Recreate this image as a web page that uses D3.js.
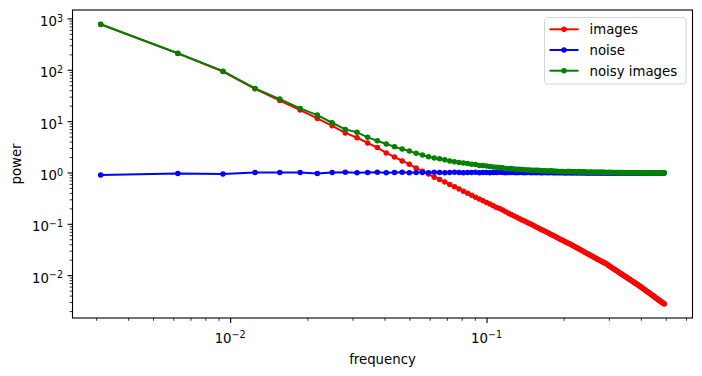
<!DOCTYPE html>
<html>
<head>
<meta charset="utf-8">
<script src="https://cdn.jsdelivr.net/npm/d3@7"></script>
<style>
  body { margin: 0; background: #fff; }
  svg { font-family: "DejaVu Sans", sans-serif; }
</style>
</head>
<body>
<svg id="chart" width="702" height="376"></svg>
<script>
// radial frequency bins (cycles / pixel)
const frequency = [
  0.003125, 0.00625, 0.009375, 0.0125, 0.015625, 0.01875, 0.021875, 0.025, 0.028125, 0.03125,
  0.034375, 0.0375, 0.040625, 0.04375, 0.046875, 0.05, 0.053125, 0.05625, 0.059375, 0.0625,
  0.065625, 0.06875, 0.071875, 0.075, 0.078125, 0.08125, 0.084375, 0.0875, 0.090625, 0.09375,
  0.096875, 0.1, 0.103125, 0.10625, 0.109375, 0.1125, 0.115625, 0.11875, 0.121875, 0.125,
  0.128125, 0.13125, 0.134375, 0.1375, 0.140625, 0.14375, 0.146875, 0.15, 0.153125, 0.15625,
  0.159375, 0.1625, 0.165625, 0.16875, 0.171875, 0.175, 0.178125, 0.18125, 0.184375, 0.1875,
  0.190625, 0.19375, 0.196875, 0.2, 0.203125, 0.20625, 0.209375, 0.2125, 0.215625, 0.21875,
  0.221875, 0.225, 0.228125, 0.23125, 0.234375, 0.2375, 0.240625, 0.24375, 0.246875, 0.25,
  0.253125, 0.25625, 0.259375, 0.2625, 0.265625, 0.26875, 0.271875, 0.275, 0.278125, 0.28125,
  0.284375, 0.2875, 0.290625, 0.29375, 0.296875, 0.3, 0.303125, 0.30625, 0.309375, 0.3125,
  0.315625, 0.31875, 0.321875, 0.325, 0.328125, 0.33125, 0.334375, 0.3375, 0.340625, 0.34375,
  0.346875, 0.35, 0.353125, 0.35625, 0.359375, 0.3625, 0.365625, 0.36875, 0.371875, 0.375,
  0.378125, 0.38125, 0.384375, 0.3875, 0.390625, 0.39375, 0.396875, 0.4, 0.403125, 0.40625,
  0.409375, 0.4125, 0.415625, 0.41875, 0.421875, 0.425, 0.428125, 0.43125, 0.434375, 0.4375,
  0.440625, 0.44375, 0.446875, 0.45, 0.453125, 0.45625, 0.459375, 0.4625, 0.465625, 0.46875,
  0.471875, 0.475, 0.478125, 0.48125, 0.484375, 0.4875, 0.490625, 0.49375
]

const imagesPower = [
  765, 208, 92.5, 42.5, 25.2, 16.4, 11.3, 8.1, 5.9, 4.75,
  3.75, 3.05, 2.4, 2.0, 1.68, 1.45, 1.22, 1.06, 0.93, 0.81,
  0.73, 0.655, 0.58, 0.525, 0.478, 0.43, 0.395, 0.36, 0.33, 0.305,
  0.28, 0.26, 0.242, 0.224, 0.209, 0.198, 0.185, 0.171, 0.16, 0.151,
  0.142, 0.134, 0.126, 0.119, 0.113, 0.107, 0.101, 0.0965, 0.0915, 0.087,
  0.0828, 0.0788, 0.0751, 0.0716, 0.0683, 0.0653, 0.0623, 0.0597, 0.0571, 0.0547,
  0.0525, 0.0503, 0.0483, 0.0464, 0.0446, 0.0429, 0.0413, 0.0398, 0.0383, 0.0369,
  0.0355, 0.0342, 0.0329, 0.0317, 0.0305, 0.0295, 0.0284, 0.0274, 0.0265, 0.0256,
  0.0247, 0.0239, 0.0231, 0.0224, 0.0217, 0.0210, 0.0203, 0.0197, 0.0191, 0.0185,
  0.0180, 0.0174, 0.0170, 0.0166, 0.0160, 0.0153, 0.0148, 0.0143, 0.0138, 0.0134,
  0.0130, 0.0125, 0.0122, 0.0118, 0.0114, 0.0110, 0.0107, 0.0104, 0.0101, 0.00977,
  0.00949, 0.00921, 0.00894, 0.00869, 0.00844, 0.00820, 0.00797, 0.00775, 0.00754, 0.00733,
  0.00714, 0.00694, 0.00676, 0.00658, 0.00641, 0.00624, 0.00608, 0.00591, 0.00574, 0.00559,
  0.00543, 0.00528, 0.00514, 0.00500, 0.00487, 0.00474, 0.00461, 0.00449, 0.00438, 0.00426,
  0.00415, 0.00405, 0.00394, 0.00384, 0.00375, 0.00365, 0.00357, 0.00348, 0.00340, 0.00331,
  0.00323, 0.00316, 0.00308, 0.00301, 0.00294, 0.00287, 0.00280, 0.00274
]

const noisePower = [
  0.89, 0.96, 0.93, 1.0, 1.0, 1.0, 0.96, 1.0, 1.01, 0.99,
  1.0, 1.01, 0.99, 1.0, 1.01, 0.99, 1.0, 1.0, 0.99, 1.01,
  1.0, 0.99, 1.0, 1.01, 1.0, 0.99, 1.0, 1.0, 1.01, 0.99,
  1.0, 1.0, 0.99, 1.0, 1.0, 1.01, 1.0, 0.99, 1.0, 1.0,
  1.0, 0.99, 1.0, 1.0, 0.99, 1.0, 1.0, 0.99, 1.0, 0.99,
  1.0, 0.99, 0.99, 1.0, 0.99, 0.99, 1.0, 0.99, 0.99, 0.99,
  0.99, 0.99, 0.99, 0.99, 0.98, 0.99, 0.99, 0.99, 0.98, 0.99,
  0.99, 0.98, 0.99, 0.99, 0.98, 0.99, 0.98, 0.99, 0.98, 0.98,
  0.98, 0.99, 0.98, 0.98, 0.99, 0.98, 0.98, 0.99, 0.98, 0.98,
  0.98, 0.99, 0.98, 0.98, 0.98, 0.98, 0.99, 0.98, 0.98, 0.98,
  0.98, 0.975, 0.98, 0.985, 0.98, 0.975, 0.98, 0.98, 0.985, 0.975,
  0.98, 0.98, 0.975, 0.98, 0.985, 0.98, 0.975, 0.98, 0.98, 0.98,
  0.975, 0.98, 0.98, 0.985, 0.975, 0.98, 0.98, 0.975, 0.98, 0.98,
  0.98, 0.975, 0.98, 0.985, 0.98, 0.975, 0.98, 0.98, 0.975, 0.98,
  0.98, 0.98, 0.975, 0.98, 0.98, 0.975, 0.98, 0.985, 0.98, 0.975,
  0.98, 0.98, 0.975, 0.98, 0.98, 0.975, 0.98, 0.98
]

const noisyPower = [
  770, 210, 94, 43.3, 26.9, 17.7, 13.1, 9.3, 6.9, 6.05,
  4.83, 4.15, 3.58, 3.18, 2.85, 2.62, 2.36, 2.19, 2.03, 1.92,
  1.84, 1.76, 1.68, 1.62, 1.56, 1.53, 1.50, 1.45, 1.43, 1.37,
  1.36, 1.33, 1.30, 1.28, 1.26, 1.25, 1.23, 1.20, 1.20, 1.19,
  1.17, 1.15, 1.15, 1.14, 1.13, 1.12, 1.12, 1.11, 1.11, 1.10,
  1.10, 1.08, 1.08, 1.085, 1.07, 1.07, 1.075, 1.065, 1.06, 1.06,
  1.05, 1.05, 1.05, 1.045, 1.035, 1.04, 1.04, 1.04, 1.03, 1.035,
  1.035, 1.025, 1.03, 1.03, 1.02, 1.03, 1.02, 1.025, 1.015, 1.015,
  1.01, 1.02, 1.01, 1.01, 1.015, 1.005, 1.005, 1.015, 1.005, 1.005,
  1.005, 1.01, 1.0, 1.0, 1.0, 1.0, 1.01, 1.0, 1.0, 0.998,
  0.996, 0.991, 0.995, 1.0, 0.995, 0.989, 0.994, 0.993, 0.998, 0.988,
  0.992, 0.992, 0.987, 0.992, 0.996, 0.991, 0.986, 0.991, 0.991, 0.99,
  0.985, 0.99, 0.99, 0.995, 0.985, 0.989, 0.989, 0.984, 0.989, 0.989,
  0.988, 0.983, 0.988, 0.993, 0.988, 0.983, 0.988, 0.987, 0.982, 0.987,
  0.987, 0.987, 0.982, 0.987, 0.987, 0.982, 0.987, 0.992, 0.986, 0.981,
  0.986, 0.986, 0.981, 0.986, 0.986, 0.981, 0.986, 0.986
]

const seriesNames = ['images', 'noise', 'noisy images']
const seriesColors = ['#ff0000', '#0000ff', '#008000']
const yMajor = [1e-2, 1e-1, 1, 10, 100, 1000]
const yMajorExp = ['\u22122', '\u22121', '0', '1', '2', '3']
const xMajor = [1e-2, 1e-1]
const xMajorExp = ['\u22122', '\u22121']

const frame = { left: 72.5, right: 692.5, top: 10, bottom: 318 }

const svg = d3.select('#chart')

const x = d3.scaleLog()
    .domain([Math.pow(10, -2.615), Math.pow(10, -0.1966)])
    .range([frame.left, frame.right])

const y = d3.scaleLog()
    .domain([Math.pow(10, -2.834), Math.pow(10, 3.164)])
    .range([frame.bottom, frame.top])

const isPow10 = v => Math.abs(Math.log10(v) - Math.round(Math.log10(v))) < 1e-9

// x axis: minor then major ticks
const xMinor = x.ticks().filter(v => !isPow10(v))
svg.append('g')
    .attr('transform', `translate(0,${frame.bottom})`)
    .call(d3.axisBottom(x).tickValues(xMinor).tickSize(2.8).tickFormat(''))
    .call(g => g.select('.domain').remove())
    .call(g => g.selectAll('line').attr('stroke', '#000').attr('stroke-width', 0.8))

svg.append('g')
    .attr('transform', `translate(0,${frame.bottom})`)
    .call(d3.axisBottom(x).tickValues(xMajor).tickSize(4.9).tickFormat(''))
    .call(g => g.select('.domain').remove())
    .call(g => g.selectAll('line').attr('stroke', '#000').attr('stroke-width', 1.1))

xMajor.forEach((v, i) => {
    const t = svg.append('text')
        .attr('x', x(v))
        .attr('y', 343.3)
        .attr('text-anchor', 'middle')
        .attr('font-size', 13.3)
        .attr('fill', '#000')
    t.append('tspan').text('10')
    t.append('tspan').attr('dy', -5).attr('font-size', 9.6).text(xMajorExp[i])
})

// y axis
const yMinor = y.ticks().filter(v => !isPow10(v))
svg.append('g')
    .attr('transform', `translate(${frame.left},0)`)
    .call(d3.axisLeft(y).tickValues(yMinor).tickSize(2.8).tickFormat(''))
    .call(g => g.select('.domain').remove())
    .call(g => g.selectAll('line').attr('stroke', '#000').attr('stroke-width', 0.8))

svg.append('g')
    .attr('transform', `translate(${frame.left},0)`)
    .call(d3.axisLeft(y).tickValues(yMajor).tickSize(4.9).tickFormat(''))
    .call(g => g.select('.domain').remove())
    .call(g => g.selectAll('line').attr('stroke', '#000').attr('stroke-width', 1.1))

yMajor.forEach((v, i) => {
    const t = svg.append('text')
        .attr('x', 63)
        .attr('y', y(v) + 7.6)
        .attr('text-anchor', 'end')
        .attr('font-size', 13.3)
        .attr('fill', '#000')
    t.append('tspan').text('10')
    t.append('tspan').attr('dy', -4.5).attr('font-size', 9.6).text(yMajorExp[i])
})

// axis titles
svg.append('text')
    .attr('x', (frame.left + frame.right) / 2)
    .attr('y', 363.5)
    .attr('text-anchor', 'middle')
    .attr('font-size', 13.3)
    .text('frequency')

svg.append('text')
    .attr('transform', `translate(20.5,${(frame.top + frame.bottom) / 2}) rotate(-90)`)
    .attr('text-anchor', 'middle')
    .attr('font-size', 13.3)
    .text('power')

// series
const allSeries = [imagesPower, noisePower, noisyPower]
const line = d3.line()
    .x(d => x(d[0]))
    .y(d => y(d[1]))

allSeries.forEach((vals, i) => {
    const pts = frequency.map((f, j) => [f, vals[j]])
    const g = svg.append('g')
    g.append('path')
        .datum(pts)
        .attr('d', line)
        .attr('fill', 'none')
        .attr('stroke', seriesColors[i])
        .attr('stroke-width', 2)
        .attr('stroke-linejoin', 'round')
    g.selectAll('circle')
        .data(pts)
        .join('circle')
        .attr('cx', d => x(d[0]))
        .attr('cy', d => y(d[1]))
        .attr('r', 2.1)
        .attr('fill', seriesColors[i])
        .attr('stroke', seriesColors[i])
        .attr('stroke-width', 1.3)
})

// frame
svg.append('rect')
    .attr('x', frame.left)
    .attr('y', frame.top)
    .attr('width', frame.right - frame.left)
    .attr('height', frame.bottom - frame.top)
    .attr('fill', 'none')
    .attr('stroke', '#000')
    .attr('stroke-width', 1.1)

// legend
const legend = svg.append('g')
legend.append('rect')
    .attr('x', 544.5)
    .attr('y', 17.5)
    .attr('width', 141.5)
    .attr('height', 66.5)
    .attr('rx', 3)
    .attr('fill', 'rgba(255,255,255,0.8)')
    .attr('stroke', '#d5d5d5')
    .attr('stroke-width', 1)

const rowY = [29.3, 50, 70.7]
seriesNames.forEach((name, i) => {
    legend.append('line')
        .attr('x1', 549.5).attr('x2', 578.5)
        .attr('y1', rowY[i]).attr('y2', rowY[i])
        .attr('stroke', seriesColors[i])
        .attr('stroke-width', 2)
    legend.append('circle')
        .attr('cx', 564).attr('cy', rowY[i])
        .attr('r', 2.1)
        .attr('fill', seriesColors[i])
        .attr('stroke', seriesColors[i])
        .attr('stroke-width', 1.3)
    legend.append('text')
        .attr('x', 589.5)
        .attr('y', rowY[i] + 4.8)
        .attr('font-size', 13.3)
        .text(name)
})
</script>
</body>
</html>
